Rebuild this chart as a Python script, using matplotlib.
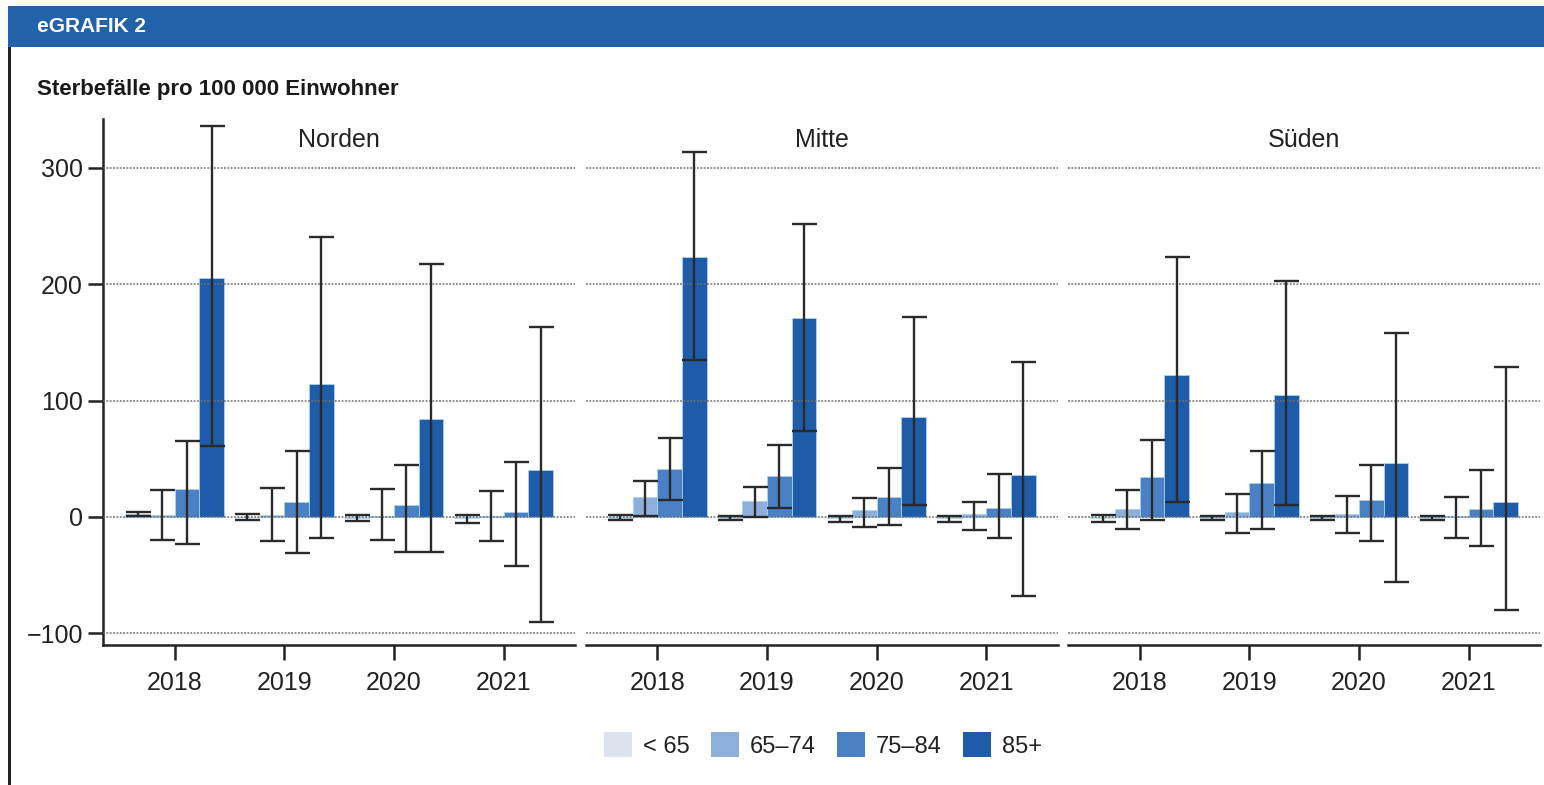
import matplotlib

matplotlib.use("Agg")
import matplotlib.pyplot as plt
import numpy as np
from matplotlib.patches import Patch, Rectangle

plt.rcParams["font.family"] = ["Liberation Sans", "DejaVu Sans"]

years = [2018, 2019, 2020, 2021]
ages = ["< 65", "65–74", "75–84", "85+"]
regions = ["Norden", "Mitte", "Süden"]
colors = ["#dce3ee", "#8eafd9", "#4a81c5", "#1e5ba8"]

# rows = years, cols = age groups
norden_val = [[3, 2, 24, 205], [0, 2, 13, 114], [-1, 1, 10, 84], [-1, 1, 4, 40]]
norden_lo = [[0.5, -20, -23, 61], [-3, -21, -31, -18], [-3.5, -20, -30, -30], [-5, -21, -42, -90]]
norden_hi = [[4.5, 23, 65, 336], [2.5, 25, 57, 241], [2, 24, 45, 217], [2, 22, 47, 163]]

mitte_val = [[-1, 17, 41, 223], [-1, 14, 35, 171], [-1, 6, 17, 86], [-1, 3, 8, 36]]
mitte_lo = [[-3, 1, 15, 135], [-3, 0, 8, 74], [-4, -9, -7, 10], [-4, -11, -18, -68]]
mitte_hi = [[1.5, 31, 68, 314], [1, 26, 62, 252], [1, 16, 42, 172], [1, 13, 37, 133]]

sueden_val = [[-1, 7, 34, 122], [-1, 4, 29, 105], [-1, 3, 15, 46], [-1, 1, 7, 13]]
sueden_lo = [[-4, -10, -3, 13], [-3, -14, -10, 10], [-3, -14, -21, -56], [-3, -18, -25, -80]]
sueden_hi = [[1.5, 23, 66, 223], [1, 20, 57, 203], [1, 18, 45, 158], [1, 17, 40, 129]]

data = {
    "Norden": (norden_val, norden_lo, norden_hi),
    "Mitte": (mitte_val, mitte_lo, mitte_hi),
    "Süden": (sueden_val, sueden_lo, sueden_hi),
}

W, H = 1544, 785
fig = plt.figure(figsize=(W / 100, H / 100), dpi=100)

# header banner and left rule
fig.patches.append(Rectangle((8 / W, 1 - 47 / H), 1, 41 / H, transform=fig.transFigure,
                             facecolor="#2262a9", edgecolor="none"))
fig.patches.append(Rectangle((8 / W, 0), 3 / W, 1 - 47 / H, transform=fig.transFigure,
                             facecolor="#222222", edgecolor="none"))
fig.text(37 / W, 1 - 27 / H, "eGRAFIK 2", color="white", fontsize=15, fontweight="bold",
         va="center", ha="left")
fig.text(37 / W, 1 - 90 / H, "Sterbefälle pro 100 000 Einwohner", color="#1a1a1a",
         fontsize=16, fontweight="bold", va="center", ha="left")

pw, gap = 472, 10.5
bottom, top = 645, 119
bw = 0.225
offsets = (np.arange(4) - 1.5) * bw
x = np.array(years, dtype=float)

axes = []
for i, reg in enumerate(regions):
    left = 103 + i * (pw + gap)
    ax = fig.add_axes([left / W, 1 - bottom / H, pw / W, (bottom - top) / H],
                      sharey=axes[0] if axes else None)
    axes.append(ax)
    val, lo, hi = (np.array(a, dtype=float) for a in data[reg])
    for j in range(4):
        xs = x + offsets[j]
        ax.bar(xs, val[:, j], width=bw, color=colors[j], edgecolor="#a9d3f0",
               linewidth=0.6, zorder=2)
        ax.errorbar(xs, val[:, j], yerr=[val[:, j] - lo[:, j], hi[:, j] - val[:, j]],
                    fmt="none", ecolor="#2a2a2a", elinewidth=1.7, capsize=9,
                    capthick=1.7, zorder=4)
    ax.set_xlim(2017.345, 2021.65)
    ax.set_ylim(-110, 342)
    ax.set_yticks([-100, 0, 100, 200, 300])
    ax.set_yticklabels(["−100", "0", "100", "200", "300"])
    ax.set_xticks(years)
    ax.grid(axis="y", linestyle=(0, (1.2, 1.0)), color="#6f6f6f", linewidth=1.1, zorder=3)
    ax.set_axisbelow(False)
    for s in ["top", "right"]:
        ax.spines[s].set_visible(False)
    ax.spines["bottom"].set_linewidth(1.8)
    ax.spines["bottom"].set_color("#222222")
    ax.spines["left"].set_linewidth(1.8)
    ax.spines["left"].set_color("#222222")
    ax.tick_params(axis="both", labelsize=18, length=11, width=1.8, color="#222222",
                   labelcolor="#222222")
    ax.tick_params(axis="x", pad=8)
    if i > 0:
        ax.spines["left"].set_visible(False)
        ax.tick_params(axis="y", left=False, labelleft=False)
    ax.text(0.5, 0.96, reg, transform=ax.transAxes, ha="center", va="center",
            fontsize=18, color="#222222")

handles = [Patch(facecolor=c, edgecolor="none") for c in colors]
fig.legend(handles, ages, loc="center", bbox_to_anchor=(823 / W, 1 - 745 / H), ncol=4,
           frameon=False, fontsize=17, handlelength=1.2, handleheight=1.2,
           handletextpad=0.45, columnspacing=0.9, labelcolor="#222222")

fig.savefig("out.png", dpi=100)
